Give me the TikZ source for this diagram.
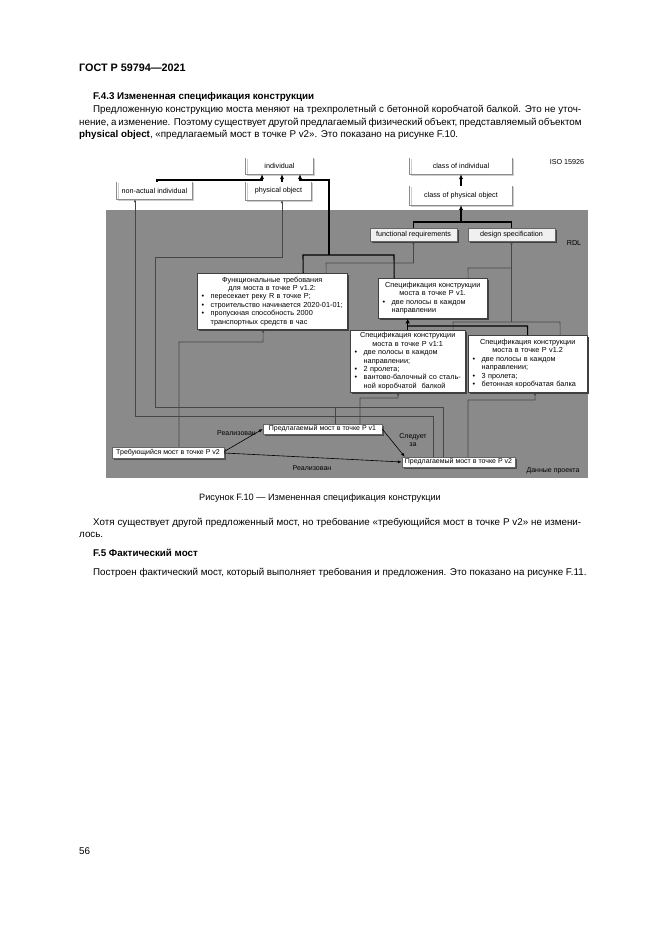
\documentclass[tikz,border=0pt]{standalone}
\usepackage{fontspec}
\setmainfont{Liberation Sans}
\usetikzlibrary{arrows.meta,shadows}
\definecolor{figgray}{RGB}{138,138,138}
\definecolor{ugray}{RGB}{140,140,140}
\definecolor{ushade}{RGB}{205,205,205}
\definecolor{clsgray}{RGB}{70,70,70}
\newcommand\bul{\makebox[12pt][l]{\hspace{3pt}\textbullet}}
\newcommand\bulgap{\hspace*{12pt}}
\tikzset{
  body/.style={anchor=base west, inner sep=0pt, font=\fontsize{9.8}{12}\selectfont},
  bodyb/.style={body, font=\fontsize{9.8}{12}\selectfont\bfseries},
  uline/.style={draw=ugray, line width=0.9pt},
  ushadow/.style={draw=ushade, line width=1.4pt},
  ubox/.style={inner sep=0pt, font=\fontsize{7.2}{8}\selectfont},
  wbox/.style={fill=white, draw=black!75, line width=0.4pt, inner sep=1.5pt,
    font=\fontsize{7.3}{8.4}\selectfont, align=left,
    drop shadow={shadow xshift=1.8pt, shadow yshift=-1.8pt, fill=black!75, opacity=1}},
  rbox/.style={fill=gray!12, draw=black!60, line width=0.4pt, inner sep=0pt,
    font=\fontsize{7.2}{8}\selectfont,
    drop shadow={shadow xshift=1.8pt, shadow yshift=-1.8pt, fill=black!75, opacity=1}},
  sbox/.style={fill=white, draw=black!60, line width=0.4pt, inner sep=0pt,
    font=\fontsize{7}{8}\selectfont,
    drop shadow={shadow xshift=1.5pt, shadow yshift=-1.5pt, fill=black!70, opacity=1}},
  blk/.style={draw=black, line width=1.1pt},
  blkarr/.style={blk, -{Latex[length=5pt,width=4.5pt]}},
  cls/.style={draw=clsgray, line width=0.6pt},
  clsarr/.style={cls, -{Latex[length=3pt,width=2.6pt]}},
  lab/.style={inner sep=0pt, font=\fontsize{7}{8}\selectfont},
  tharr/.style={draw=black, line width=0.6pt, -{Latex[length=4pt,width=3pt]}}
}
\newcommand\ubx[1]{%
  \draw[ushadow] ([xshift=1.5pt,yshift=-1.5pt]#1.north west) -- ([xshift=1.5pt,yshift=-1.5pt]#1.south west) -- ([xshift=1.5pt,yshift=-1.5pt]#1.south east) -- ([xshift=1.5pt,yshift=-1.5pt]#1.north east);
  \draw[uline] (#1.north west) -- (#1.south west) -- (#1.south east) -- (#1.north east);}
\begin{document}
\begin{tikzpicture}[x=1pt,y=-1pt]
\useasboundingbox[fill=white] (0,0) rectangle (661,935);

% ---- page text ----
\node[bodyb, font=\fontsize{10.8}{12}\selectfont\bfseries] (hdr) at (79,71) {ГОСТ Р 59794—2021};
\node[bodyb] (h1) at (93,99.5) {F.4.3 Измененная спецификация конструкции};
\node[body] (p1) at (93,112.5) {\makebox[488pt][s]{Предложенную конструкцию моста меняют на трехпролетный с бетонной коробчатой балкой. Это не уточ-}};
\node[body] (p2) at (79,125) {\makebox[502pt][s]{нение, а изменение. Поэтому существует другой предлагаемый физический объект, представляемый объектом}};
\node[body] (p3) at (79,137.5) {\textbf{physical object}, «предлагаемый мост в точке P v2». Это показано на рисунке F.10.};

% ---- figure background ----
\fill[figgray] (106,210) rectangle (588,478);

% ---- class boxes (U shaped) ----
\node[ubox, minimum width=67pt, minimum height=16pt] (ind) at (279.5,166) {individual};
\node[ubox, minimum width=75pt, minimum height=17pt] (nai) at (154.5,190.5) {non-actual individual};
\node[ubox, minimum width=65pt, minimum height=18pt] (po) at (278.5,191) {physical object};
\node[ubox, minimum width=102pt, minimum height=16pt] (cind) at (461,166) {class of individual};
\node[ubox, minimum width=102pt, minimum height=19pt] (cpo) at (461,195.5) {class of physical object};
\ubx{ind}\ubx{nai}\ubx{po}\ubx{cind}\ubx{cpo}

\node[lab, font=\fontsize{7.2}{8}\selectfont] (iso) at (567,162) {ISO 15926};
\node[lab, font=\fontsize{7.2}{8}\selectfont] (rdl) at (574,243) {RDL};

% ---- RDL boxes ----
\node[rbox, minimum width=87pt, minimum height=13pt] (fr) at (413.5,234.5) {functional requirements};
\node[rbox, minimum width=87pt, minimum height=13pt] (ds) at (511.5,234.5) {design specification};

% ---- specification boxes ----
\node[wbox, anchor=north west, minimum width=150pt, minimum height=56pt, text width=147pt] (ftr) at (197,273) {%
\centering Функциональные требования\\для моста в точке P v1.2:\par\raggedright
\bul пересекает реку R в точке P;\par
\bul строительство начинается 2020-01-01;\par
\bul пропускная способность 2000\par
\bulgap транспортных средств в час};
\node[wbox, anchor=north west, minimum width=109pt, minimum height=40pt, text width=106pt] (v1s) at (378,278) {%
\centering Спецификация конструкции\\моста в точке P v1.\par\raggedright
\bul две полосы в каждом\par
\bulgap направлении};
\node[wbox, anchor=north west, minimum width=115pt, minimum height=62pt, text width=112pt] (v11) at (350,330) {%
\centering Спецификация конструкции\\моста в точке P v1:1\par\raggedright
\bul две полосы в каждом\par
\bulgap направлении;\par
\bul 2 пролета;\par
\bul вантово-балочный со сталь-\par
\bulgap ной коробчатой\ \ балкой};
\node[wbox, anchor=north west, minimum width=119pt, minimum height=57pt, text width=116pt] (v12) at (468,335) {%
\centering Спецификация конструкции\\моста в точке P v1.2\par\raggedright
\bul две полосы в каждом\par
\bulgap направлении;\par
\bul 3 пролета;\par
\bul бетонная коробчатая балка};

% ---- instance boxes ----
\node[sbox, minimum width=112pt, minimum height=11pt] (treb) at (168,452.5) {Требующийся мост в точке P v2};
\node[sbox, minimum width=119pt, minimum height=10pt] (v1p) at (322.5,429) {Предлагаемый мост в точке P v1};
\node[sbox, minimum width=113pt, minimum height=10pt] (v2p) at (458.5,462) {Предлагаемый мост в точке P v2};

% ---- classification connectors (thin) ----
\draw[clsarr] ([xshift=54pt]ftr.north) -- (326,263) -- (413.5,263) -- (fr.south);
\draw[clsarr] ([xshift=35.5pt]v1s.north) -- (468,268) -- (511.5,268) -- (ds.south);
\coordinate (dsj) at (511.5,322);
\draw[cls] ([xshift=45.5pt]v11.north) -- (453,322) -- (560,322) -- ([xshift=32.5pt]v12.north);
\draw[cls] (dsj) -- (511.5,268);
\draw[clsarr] ([xshift=-15.5pt]v2p.north) -- (443,407) -- (155,407) -- (155,257) -- (282,257) -- ([xshift=3.5pt]po.south);
\draw[cls] ([xshift=12.5pt]v1p.north) -- (335,407);
\draw[clsarr] ([xshift=-25.5pt]v2p.north) -- (433,416) -- (135,416) -- ([xshift=-19.5pt]nai.south);
\draw[clsarr] ([xshift=11pt]treb.north) -- (179,342) -- (263,342) -- ([xshift=-9pt]ftr.south);
\draw[clsarr] ([xshift=37.5pt]v1p.north) -- (360,398) -- (398,398) -- ([xshift=-9.5pt]v11.south);
\draw[clsarr] ([xshift=9.5pt]v2p.north) -- (468,400) -- (535,400) -- ([xshift=7.5pt]v12.south);

% ---- specialization connectors (thick) ----
\draw[blk] (fr.north) -- (413.5,222) -- (511.5,222) -- (ds.north);
\coordinate (frj) at (461,222);
\draw[blkarr] (frj) -- (cpo.south);
\draw[blkarr] (cpo.north) -- (cind.south);
\draw[blkarr] ([xshift=2.5pt]nai.north) -- (157,180) -- (262,180) -- ([xshift=-17.5pt]ind.south);
\draw[blkarr] ([xshift=3.5pt]po.north) -- ([xshift=2.5pt]ind.south);
\draw[blk] ([xshift=31pt]ftr.north) -- (303,255) -- (394,255) -- ([xshift=-38.5pt]v1s.north);
\coordinate (spj) at (329,255);
\draw[blkarr] (spj) -- (329,180) -- (300,180) -- ([xshift=20.5pt]ind.south);
\draw[blkarr] (v11.north) -- ([xshift=-25pt]v1s.south);
\coordinate (vj) at (407.5,326);
\draw[blk] (vj) -- (527.5,326) -- (v12.north);

% ---- relations ----
\draw[tharr] ([yshift=1pt]treb.east) -- (v1p.west);
\draw[tharr] ([yshift=-0.5pt]treb.east) -- (v2p.west);
\draw[tharr] (v1p.east) -- ([xshift=3pt]v2p.north west);
\node[lab, anchor=east] (r1) at (256,433) {Реализован};
\node[lab] (r2) at (312,468) {Реализован};
\node[lab, align=center, font=\fontsize{7}{7.5}\selectfont] (sz) at (413,440) {Следует\\за};
\node[lab] (dp) at (553,470.5) {Данные проекта};

% ---- text below ----
\node[body, anchor=base, font=\fontsize{9.2}{12}\selectfont] (cap) at (320,500.5) {Рисунок F.10 — Измененная спецификация конструкции};
\node[body] (p4) at (93,525) {\makebox[488pt][s]{Хотя существует другой предложенный мост, но требование «требующийся мост в точке P v2» не измени-}};
\node[body] (p5) at (79,537.5) {лось.};
\node[bodyb] (h2) at (93,556.5) {F.5 Фактический мост};
\node[body] (p6) at (93,575.5) {Построен фактический мост, который выполняет требования и предложения. Это показано на рисунке F.11.};
\node[body] (pg) at (79,854.5) {56};
\end{tikzpicture}
\end{document}
